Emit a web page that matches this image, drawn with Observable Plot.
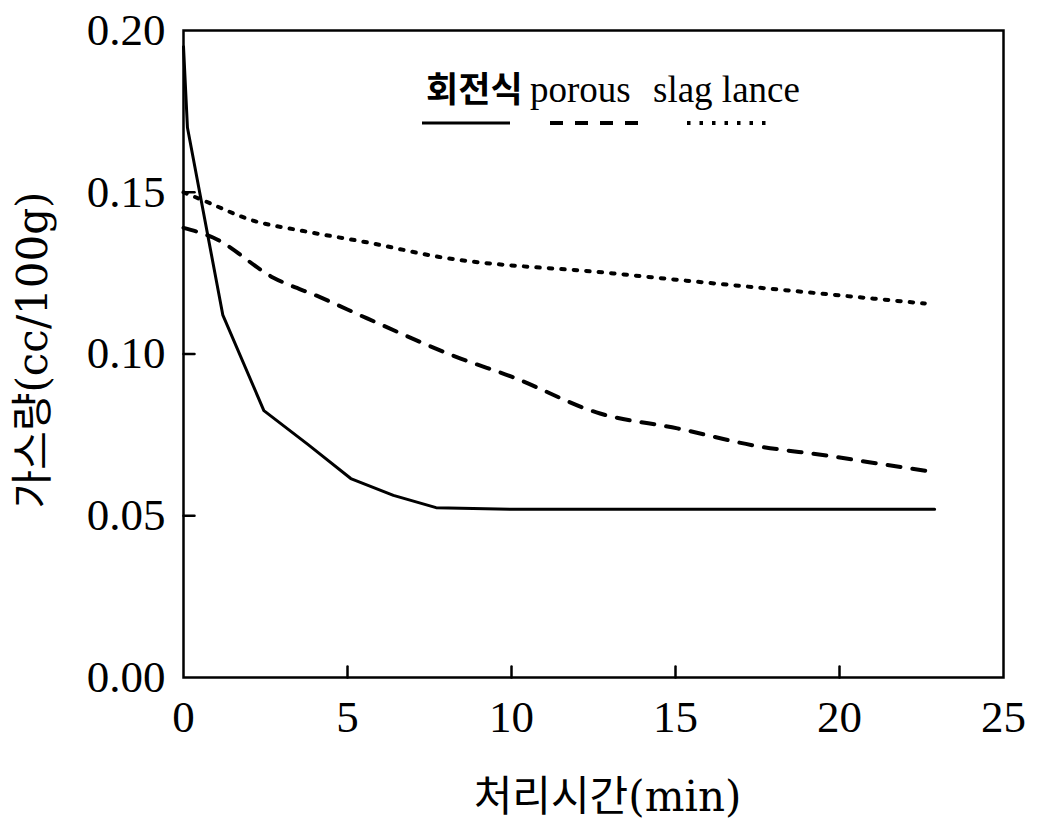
<!DOCTYPE html>
<html>
<head>
<meta charset="utf-8">
<script src="https://cdn.jsdelivr.net/npm/d3@7"></script>
<script src="https://cdn.jsdelivr.net/npm/@observablehq/plot@0.6"></script>
<style>
  html, body { margin: 0; padding: 0; background: #fff; }
  #wrap { position: relative; width: 1038px; height: 826px; }
  #legend { position: absolute; left: 0; top: 0; width: 1038px; height: 826px; pointer-events: none; }
</style>
</head>
<body>
<div id="wrap"></div>
<script>
// ---- data ----
const seriesNames = ["회전식", "porous", "slag lance"];
const rotaryT = [0, 0.12, 1.2, 2.45, 3.8, 5.1, 6.4, 7.7, 10, 15, 20, 22.9];
const rotaryGas = [0.195, 0.170, 0.112, 0.0825, 0.072, 0.0615, 0.0563, 0.0525, 0.052, 0.052, 0.052, 0.052];
const porousT = [0, 0.9, 2.74, 4.18, 5.6, 8.45, 10, 12.7, 15.06, 17.4, 19.6, 21.9, 22.9];
const porousGas = [0.139, 0.136, 0.1236, 0.1175, 0.111, 0.0986, 0.093, 0.0816, 0.077, 0.0717, 0.0686, 0.065, 0.0635];
const lanceT = [0, 0.6, 2.1, 3.66, 5.6, 7.8, 12.8, 16, 19.1, 22.6];
const lanceGas = [0.150, 0.1475, 0.1413, 0.138, 0.1345, 0.130, 0.1252, 0.122, 0.119, 0.1156];
const xTicks = [0, 5, 10, 15, 20, 25];
const yTicks = [0, 0.05, 0.10, 0.15, 0.20];
const xLabel = "처리시간(min)";
const yLabel = "가스량(cc/100g)";

const toRows = (ts, vs) => ts.map((t, i) => ({t, v: vs[i]}));
const rotary = toRows(rotaryT, rotaryGas);
const porous = toRows(porousT, porousGas);
const lance = toRows(lanceT, lanceGas);

const serif = "'Liberation Serif', 'DejaVu Serif', serif";
const mixed = "'DejaVu Serif', 'Noto Sans CJK KR', serif";
const kr = "'Noto Sans CJK KR', sans-serif";

// inward tick shape for Plot.vector
const tickShape = {draw(context, l) { context.moveTo(0, 0); context.lineTo(0, -l); }};
const innerX = xTicks.slice(1, -1);
const innerY = yTicks.slice(1, -1);

const chart = Plot.plot({
  width: 1038,
  height: 826,
  marginLeft: 183,
  marginRight: 35,
  marginTop: 30,
  marginBottom: 149,
  style: {fontFamily: serif, color: "#000", background: "#fff"},
  x: {domain: [0, 25]},
  y: {domain: [0, 0.2]},
  marks: [
    Plot.frame({stroke: "#000", strokeWidth: 2.5}),
    Plot.axisX({ticks: xTicks, tickSize: 0, tickPadding: 23,
      tickFormat: d => String(d), fontSize: 45, label: null, fill: "#000"}),
    Plot.axisY({ticks: yTicks, tickSize: 0, tickPadding: 18,
      tickFormat: d3.format(".2f"), fontSize: 45, label: null, fill: "#000"}),
    Plot.vector(innerX, {x: d => d, frameAnchor: "bottom", length: 11, rotate: 0, anchor: "start",
      shape: tickShape, stroke: "#000", strokeWidth: 2.5}),
    Plot.vector(innerY, {y: d => d, frameAnchor: "left", length: 11, rotate: 90, anchor: "start",
      shape: tickShape, stroke: "#000", strokeWidth: 2.5}),
    Plot.line(rotary, {x: "t", y: "v", stroke: "#000", strokeWidth: 3, curve: "linear"}),
    Plot.line(porous, {x: "t", y: "v", stroke: "#000", strokeWidth: 4, strokeDasharray: "13,12", curve: "monotone-x"}),
    Plot.line(lance, {x: "t", y: "v", stroke: "#000", strokeWidth: 4, strokeDasharray: "3.5,9", curve: "monotone-x"}),
    Plot.text([xLabel], {text: d => d, frameAnchor: "bottom", textAnchor: "middle", lineAnchor: "middle",
      dx: 14, dy: 120, fontSize: 42, fontFamily: mixed, fill: "#000"}),
    Plot.text([yLabel], {text: d => d, frameAnchor: "left", textAnchor: "middle", lineAnchor: "middle",
      dx: -150, dy: -4, rotate: -90, fontSize: 42, fontFamily: mixed, fill: "#000"})
  ]
});

const wrap = document.getElementById("wrap");
wrap.appendChild(chart);

// ---- legend overlay (inside the plot area, top) ----
const legendItems = [
  {name: seriesNames[0], dash: null, width: 3, font: kr, weight: "bold", size: 35, textX: 426, lineX1: 422, lineX2: 510},
  {name: seriesNames[1], dash: "13,12", width: 4, font: serif, weight: "normal", size: 37, textX: 530, lineX1: 550, lineX2: 640},
  {name: seriesNames[2], dash: "3.5,9", width: 4, font: serif, weight: "normal", size: 37, textX: 653, lineX1: 687, lineX2: 772}
];
const svg = d3.select(wrap).append("svg").attr("id", "legend").attr("width", 1038).attr("height", 826);
for (const it of legendItems) {
  svg.append("text").attr("x", it.textX).attr("y", 102)
    .attr("font-family", it.font).attr("font-weight", it.weight).attr("font-size", it.size)
    .attr("fill", "#000").text(it.name);
  svg.append("line").attr("x1", it.lineX1).attr("x2", it.lineX2).attr("y1", 123).attr("y2", 123)
    .attr("stroke", "#000").attr("stroke-width", it.width)
    .attr("stroke-dasharray", it.dash);
}
</script>
</body>
</html>
